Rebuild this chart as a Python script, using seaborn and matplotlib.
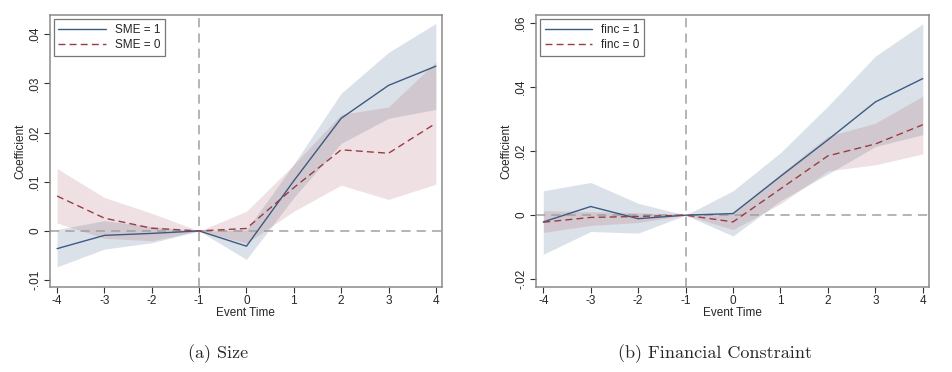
import numpy as np
import pandas as pd
import matplotlib
matplotlib.use("Agg")
import matplotlib.pyplot as plt
from matplotlib.ticker import FuncFormatter
import seaborn as sns

# ---- data ----
event_time = [-4, -3, -2, -1, 0, 1, 2, 3, 4]

# (a) Size
sme1_coef = [-0.0036, -0.0009, -0.0005, 0.0, -0.0031, 0.0102, 0.0229, 0.0296, 0.0335]
sme1_lo = [-0.0073, -0.0037, -0.0024, 0.0, -0.0058, 0.0068, 0.0178, 0.0229, 0.0247]
sme1_hi = [0.0003, 0.0021, 0.0009, 0.0, 0.0002, 0.0136, 0.0280, 0.0363, 0.0422]
sme0_coef = [0.0071, 0.0026, 0.00055, 0.0, 0.0005, 0.0088, 0.0165, 0.0158, 0.0219]
sme0_lo = [0.0016, -0.0015, -0.0020, 0.0, -0.0025, 0.0040, 0.0093, 0.0064, 0.0095]
sme0_hi = [0.0127, 0.0068, 0.0036, 0.0, 0.0040, 0.0135, 0.0237, 0.0252, 0.0344]

# (b) Financial constraint
finc1_coef = [-0.0021, 0.0027, -0.0011, 0.0, 0.0005, 0.0121, 0.0235, 0.0353, 0.0426]
finc1_lo = [-0.0122, -0.0051, -0.0056, 0.0, -0.0065, 0.0045, 0.0128, 0.0214, 0.0251]
finc1_hi = [0.0076, 0.0102, 0.0037, 0.0, 0.0076, 0.0195, 0.0340, 0.0496, 0.0597]
finc0_coef = [-0.0022, -0.0007, -0.0004, 0.0, -0.0021, 0.0082, 0.0185, 0.0222, 0.0282]
finc0_lo = [-0.0054, -0.0032, -0.0023, 0.0, -0.0045, 0.0035, 0.0138, 0.0157, 0.0191]
finc0_hi = [0.0014, 0.0011, 0.0008, 0.0, 0.0005, 0.0129, 0.0246, 0.0287, 0.0371]

blue = "#3b5b82"
red = "#9a3c45"
grey_ref = "#a0a0a0"

sns.set_style("ticks")
plt.rcParams["font.family"] = ["Liberation Sans", "DejaVu Sans"]
plt.rcParams["axes.unicode_minus"] = False


def stata_fmt(v, pos):
    if abs(v) < 1e-12:
        return "0"
    s = f"{v:.2f}"
    s = s.replace("0.", ".")
    return s


def panel(ax, g1, g0, name, yticks, ylim):
    df = pd.DataFrame({
        "t": event_time * 2,
        "coef": g1[0] + g0[0],
        "group": [f"{name} = 1"] * 9 + [f"{name} = 0"] * 9,
    })
    ax.fill_between(event_time, g1[1], g1[2], color=blue, alpha=0.18, lw=0)
    ax.fill_between(event_time, g0[1], g0[2], color=red, alpha=0.15, lw=0)
    ax.axhline(0, color=grey_ref, lw=1.1, ls=(0, (6, 4)), zorder=1)
    ax.axvline(-1, color=grey_ref, lw=1.1, ls=(0, (6, 4)), zorder=1)
    sns.lineplot(data=df, x="t", y="coef", hue="group", style="group",
                 palette=[blue, red], dashes=[(None, None), (5, 3)],
                 lw=1.0, ax=ax, legend=False)
    ax.plot([], [], color=blue, lw=1.0, label=f"{name} = 1")
    ax.plot([], [], color=red, lw=1.0, ls=(0, (5, 3)), label=f"{name} = 0")
    leg = ax.legend(loc="upper left", fontsize=8.5, frameon=True, fancybox=False,
                    edgecolor="#555555", borderaxespad=0.35, handlelength=4.0,
                    labelspacing=0.3, borderpad=0.4)
    leg.get_frame().set_linewidth(0.9)

    ax.set_xlim(-4.16, 4.13)
    ax.set_ylim(*ylim)
    ax.set_xticks(event_time)
    ax.set_yticks(yticks)
    ax.yaxis.set_major_formatter(FuncFormatter(stata_fmt))
    for lbl in ax.get_yticklabels():
        lbl.set_rotation(90)
        lbl.set_va("center")
    ax.tick_params(labelsize=8.5, length=4, width=0.8, color="#333333", pad=2)
    ax.set_xlabel("Event Time", fontsize=8.5, labelpad=0)
    ax.set_ylabel("Coefficient", fontsize=8.5, labelpad=2)
    for s in ax.spines.values():
        s.set_visible(True)
        s.set_color("#8a8a8a")
        s.set_linewidth(1.1)


fig = plt.figure(figsize=(9.52, 3.72), dpi=100)
ax1 = fig.add_axes([0.052, 0.2285, 0.4123, 0.731])
ax2 = fig.add_axes([0.5627, 0.2285, 0.4131, 0.731])

panel(ax1, (sme1_coef, sme1_lo, sme1_hi), (sme0_coef, sme0_lo, sme0_hi),
      "SME", [-0.01, 0, 0.01, 0.02, 0.03, 0.04], (-0.0114, 0.0439))
panel(ax2, (finc1_coef, finc1_lo, finc1_hi), (finc0_coef, finc0_lo, finc0_hi),
      "finc", [-0.02, 0, 0.02, 0.04, 0.06], (-0.0224, 0.0624))

fig.text(0.229, 0.05, "(a) Size", ha="center", va="center", fontsize=13,
         family=["cmr10", "DejaVu Serif"])
fig.text(0.751, 0.05, "(b) Financial Constraint", ha="center", va="center",
         fontsize=13, family=["cmr10", "DejaVu Serif"])

fig.savefig("out.png", dpi=100, facecolor="white")
